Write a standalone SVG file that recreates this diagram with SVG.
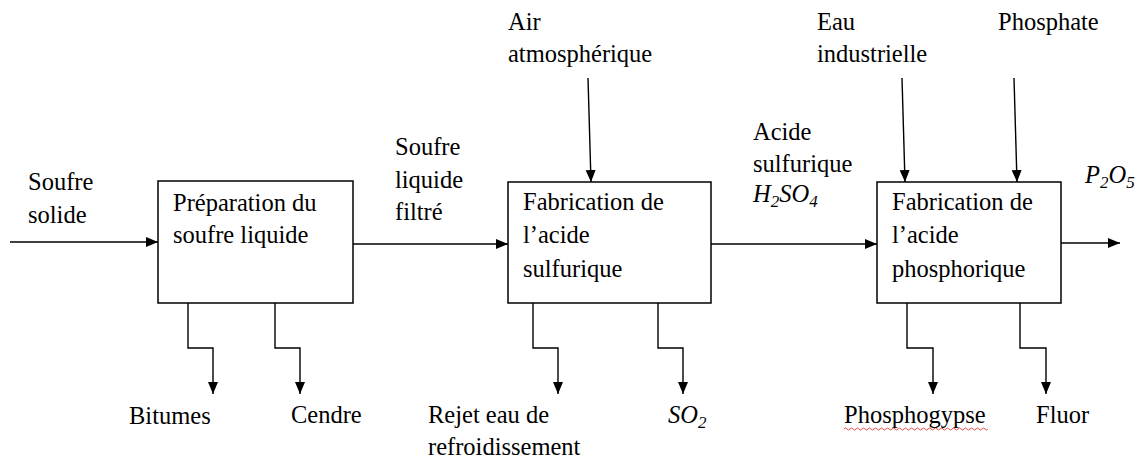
<svg xmlns="http://www.w3.org/2000/svg" width="1139" height="462" viewBox="0 0 1139 462">
<style>
.box{fill:#fff;stroke:#000;stroke-width:1.5}
.c{fill:none;stroke:#000;stroke-width:1.4}
.t{font-family:'Liberation Serif','Times New Roman',serif;font-size:24.5px;fill:#000}
.m{font-style:italic}
.sub{font-size:17px}
.wavy{fill:none;stroke:#e02020;stroke-width:0.8}
</style>
<defs>
<marker id="ah" markerUnits="userSpaceOnUse" markerWidth="12" markerHeight="12" viewBox="0 0 12 12" refX="12" refY="6" orient="auto">
<path d="M0,1 L12,6 L0,11 Z" fill="#000"/>
</marker>
</defs>
<g id="connectors">
<path class="c" d="M10,242 L158,242" marker-end="url(#ah)"/>
<path class="c" d="M353,244 L508,244" marker-end="url(#ah)"/>
<path class="c" d="M711,244 L877,244" marker-end="url(#ah)"/>
<path class="c" d="M1061,243 L1120,243" marker-end="url(#ah)"/>
<path class="c" d="M588,78 L591,182" marker-end="url(#ah)"/>
<path class="c" d="M902,78 L905,182" marker-end="url(#ah)"/>
<path class="c" d="M1014,78 L1017,182" marker-end="url(#ah)"/>
<path class="c" d="M188,303 L188,348 L213,348 L213,394" marker-end="url(#ah)"/>
<path class="c" d="M275,303 L275,348 L300,348 L300,394" marker-end="url(#ah)"/>
<path class="c" d="M533,303 L533,348 L558,348 L558,394" marker-end="url(#ah)"/>
<path class="c" d="M658,303 L658,348 L683,348 L683,394" marker-end="url(#ah)"/>
<path class="c" d="M907,303 L907,348 L933,348 L933,394" marker-end="url(#ah)"/>
<path class="c" d="M1020,303 L1020,348 L1046,348 L1046,394" marker-end="url(#ah)"/>
</g>
<g id="n1">
<rect class="box" x="158" y="181" width="195" height="122"/>
<text class="t" x="173" y="211" font-family="Liberation Serif">Préparation du</text>
<text class="t" x="173" y="243" font-family="Liberation Serif">soufre liquide</text>
</g>
<g id="n2">
<rect class="box" x="508" y="182" width="203" height="121"/>
<text class="t" x="523" y="210" font-family="Liberation Serif">Fabrication de</text>
<text class="t" x="523" y="243" font-family="Liberation Serif">l’acide</text>
<text class="t" x="523" y="277" font-family="Liberation Serif">sulfurique</text>
</g>
<g id="n3">
<rect class="box" x="877" y="182" width="184" height="121"/>
<text class="t" x="892" y="210" font-family="Liberation Serif">Fabrication de</text>
<text class="t" x="892" y="243" font-family="Liberation Serif">l’acide</text>
<text class="t" x="892" y="277" font-family="Liberation Serif">phosphorique</text>
</g>
<g id="labels">
<text class="t" x="28" y="190" font-family="Liberation Serif">Soufre</text>
<text class="t" x="28" y="223" font-family="Liberation Serif">solide</text>
<text class="t" x="508" y="30" font-family="Liberation Serif">Air</text>
<text class="t" x="508" y="62" font-family="Liberation Serif">atmosphérique</text>
<text class="t" x="395" y="155" font-family="Liberation Serif">Soufre</text>
<text class="t" x="395" y="188" font-family="Liberation Serif">liquide</text>
<text class="t" x="395" y="220" font-family="Liberation Serif">filtré</text>
<text class="t" x="817" y="30" font-family="Liberation Serif">Eau</text>
<text class="t" x="817" y="62" font-family="Liberation Serif">industrielle</text>
<text class="t" x="998" y="30" font-family="Liberation Serif">Phosphate</text>
<text class="t" x="753" y="140" font-family="Liberation Serif">Acide</text>
<text class="t" x="753" y="172" font-family="Liberation Serif">sulfurique</text>
<text class="t m" x="753" y="202" font-family="Liberation Serif">H<tspan class="sub" dy="5">2</tspan><tspan dy="-5">SO</tspan><tspan class="sub" dy="5">4</tspan></text>
<text class="t m" x="1085" y="183" font-family="Liberation Serif">P<tspan class="sub" dy="5">2</tspan><tspan dy="-5">O</tspan><tspan class="sub" dy="5">5</tspan></text>
<text class="t" x="129" y="424" font-family="Liberation Serif">Bitumes</text>
<text class="t" x="291" y="423" font-family="Liberation Serif">Cendre</text>
<text class="t" x="428" y="423" font-family="Liberation Serif">Rejet eau de</text>
<text class="t" x="428" y="455" font-family="Liberation Serif">refroidissement</text>
<text class="t m" x="668" y="423" font-family="Liberation Serif">SO<tspan class="sub" dy="5">2</tspan></text>
<text class="t" x="844" y="423" font-family="Liberation Serif">Phosphogypse</text>
<text class="t" x="1036" y="423" font-family="Liberation Serif">Fluor</text>
<path class="wavy" d="M844,429 q1.5,-2 3,0 t3,0 t3,0 t3,0 t3,0 t3,0 t3,0 t3,0 t3,0 t3,0 t3,0 t3,0 t3,0 t3,0 t3,0 t3,0 t3,0 t3,0 t3,0 t3,0 t3,0 t3,0 t3,0 t3,0 t3,0 t3,0 t3,0 t3,0 t3,0 t3,0 t3,0 t3,0 t3,0 t3,0 t3,0 t3,0 t3,0 t3,0 t3,0 t3,0 t3,0 t3,0 t3,0 t3,0 t3,0 t3,0 t3,0 t3,0"/>
</g>
</svg>
